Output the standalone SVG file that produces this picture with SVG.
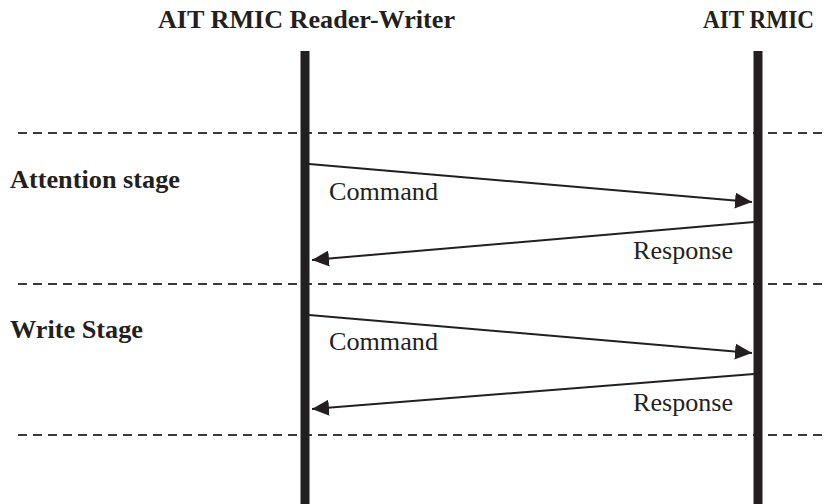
<svg xmlns="http://www.w3.org/2000/svg" width="827" height="504" viewBox="0 0 827 504">
<style>
.hdr{font-family:"Liberation Serif","Times New Roman",serif;font-weight:bold;font-size:26px;fill:#231f20}
.lbl{font-family:"Liberation Serif","Times New Roman",serif;font-size:26px;fill:#231f20}
.life{fill:#231f20}
.dash{stroke:#3a3a3a;stroke-width:1.8;stroke-dasharray:9 6;fill:none}
.msg{stroke:#231f20;stroke-width:2;fill:none;marker-end:url(#ah)}
</style>
<defs>
<marker id="ah" markerUnits="userSpaceOnUse" markerWidth="18" markerHeight="16" viewBox="0 0 18 16" refX="17" refY="8" orient="auto">
<path d="M0,0 L17,8 L0,16 Z" fill="#231f20"/>
</marker>
</defs>
<rect width="827" height="504" fill="#fff"/>
<g id="stages">
<line class="dash" x1="18" y1="133" x2="827" y2="133"/>
<line class="dash" x1="18" y1="284" x2="827" y2="284"/>
<line class="dash" x1="18" y1="435" x2="827" y2="435"/>
<text class="hdr" x="10" y="188" textLength="170" lengthAdjust="spacingAndGlyphs">Attention stage</text>
<text class="hdr" x="10" y="338" textLength="133" lengthAdjust="spacingAndGlyphs">Write Stage</text>
</g>
<g id="reader">
<text class="hdr" x="158" y="28" textLength="297" lengthAdjust="spacingAndGlyphs">AIT RMIC Reader-Writer</text>
<rect class="life" x="300.5" y="51" width="9" height="453"/>
</g>
<g id="rmic">
<text class="hdr" x="703" y="28" textLength="111" lengthAdjust="spacingAndGlyphs">AIT RMIC</text>
<rect class="life" x="753.5" y="51" width="9" height="453"/>
</g>
<g id="connectors">
<line class="msg" x1="309" y1="164" x2="752" y2="202"/>
<text class="lbl" x="329" y="200" textLength="109" lengthAdjust="spacingAndGlyphs">Command</text>
<line class="msg" x1="754" y1="222" x2="312" y2="260"/>
<text class="lbl" x="633" y="259" textLength="100" lengthAdjust="spacingAndGlyphs">Response</text>
<line class="msg" x1="309" y1="315" x2="752" y2="353"/>
<text class="lbl" x="329" y="350" textLength="109" lengthAdjust="spacingAndGlyphs">Command</text>
<line class="msg" x1="754" y1="374" x2="312" y2="409"/>
<text class="lbl" x="633" y="411" textLength="100" lengthAdjust="spacingAndGlyphs">Response</text>
</g>
</svg>
